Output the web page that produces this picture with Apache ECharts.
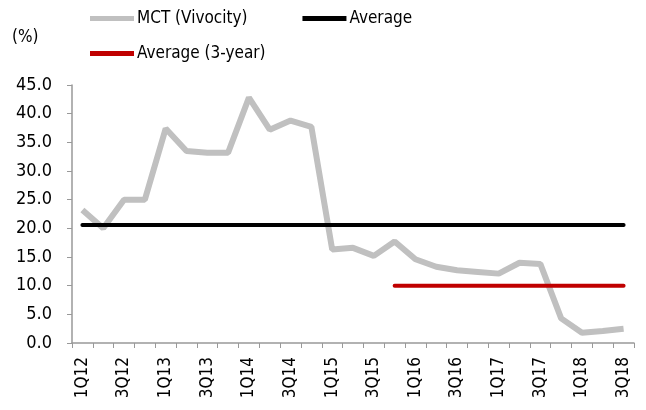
<!DOCTYPE html>
<html>
<head>
<meta charset="utf-8">
<script src="https://cdn.jsdelivr.net/npm/echarts@6/dist/echarts.min.js"></script>
<style>
html, body { margin: 0; padding: 0; background: #fff; }
#main { width: 646px; height: 410px; }
</style>
</head>
<body>
<div id="main"></div>
<script>
// quarters 1Q12 .. 3Q18
var quarters = ['1Q12','2Q12','3Q12','4Q12','1Q13','2Q13','3Q13','4Q13','1Q14','2Q14','3Q14','4Q14',
  '1Q15','2Q15','3Q15','4Q15','1Q16','2Q16','3Q16','4Q16','1Q17','2Q17','3Q17','4Q17','1Q18','2Q18','3Q18'];
var mct = [23.2,20.0,25.0,25.0,37.4,33.5,33.2,33.2,42.8,37.2,38.8,37.7,
  16.3,16.6,15.2,17.7,14.6,13.3,12.7,12.4,12.1,14.0,13.8,4.3,1.8,2.1,2.5];
var avgAll = [20.6,20.6,20.6,20.6,20.6,20.6,20.6,20.6,20.6,20.6,20.6,20.6,20.6,20.6,
  20.6,20.6,20.6,20.6,20.6,20.6,20.6,20.6,20.6,20.6,20.6,20.6,20.6];
var avg3y = [null,null,null,null,null,null,null,null,null,null,null,null,null,null,null,
  10.0,10.0,10.0,10.0,10.0,10.0,10.0,10.0,10.0,10.0,10.0,10.0];

var font = 'DejaVu Sans Condensed, DejaVu Sans, sans-serif';
var myChart = echarts.init(document.getElementById('main'));
var option = {
  animation: false,
  textStyle: { fontFamily: font },
  grid: { left: 72, right: 12, top: 85, bottom: 67 },
  legend: [{
    data: [{ name: 'MCT (Vivocity)', icon: 'rect' }, { name: 'Average', icon: 'rect' }],
    left: 85, top: 5, itemWidth: 44, itemHeight: 5, itemGap: 55,
    textStyle: { fontFamily: font, fontSize: 17, color: '#000', padding: [0, 0, 0, -2] }
  }, {
    data: [{ name: 'Average (3-year)', icon: 'rect' }],
    left: 85, top: 40, itemWidth: 44, itemHeight: 5,
    textStyle: { fontFamily: font, fontSize: 17, color: '#000', padding: [0, 0, 0, -2] }
  }],
  graphic: [{
    type: 'text', left: 12, top: 29,
    style: { text: '(%)', font: '17px ' + font, fill: '#000' }
  }],
  xAxis: {
    type: 'category',
    data: quarters,
    boundaryGap: true,
    axisLine: { lineStyle: { color: '#999', width: 1.5 } },
    axisTick: { show: true, interval: 0, length: 5, lineStyle: { color: '#999' } },
    axisLabel: { interval: 1, rotate: 90, color: '#000', fontSize: 17, fontFamily: font, margin: 14 }
  },
  yAxis: {
    type: 'value',
    min: 0, max: 45, interval: 5,
    splitLine: { show: false },
    axisLine: { show: true, lineStyle: { color: '#999', width: 1.5 } },
    axisTick: { show: true, length: 5, lineStyle: { color: '#999' } },
    axisLabel: { color: '#000', fontSize: 18, fontFamily: font, margin: 20,
      formatter: function (v) { return v.toFixed(1); } }
  },
  series: [{
    name: 'MCT (Vivocity)', type: 'line', data: mct, symbol: 'none',
    lineStyle: { color: '#c0c0c0', width: 6 }, itemStyle: { color: '#c0c0c0' }
  }, {
    name: 'Average', type: 'line', data: avgAll, symbol: 'none',
    lineStyle: { color: '#000', width: 4, cap: 'round' }, itemStyle: { color: '#000' }
  }, {
    name: 'Average (3-year)', type: 'line', data: avg3y, symbol: 'none',
    lineStyle: { color: '#c00000', width: 4, cap: 'round' }, itemStyle: { color: '#c00000' }
  }]
};
myChart.setOption(option);
</script>
</body>
</html>
